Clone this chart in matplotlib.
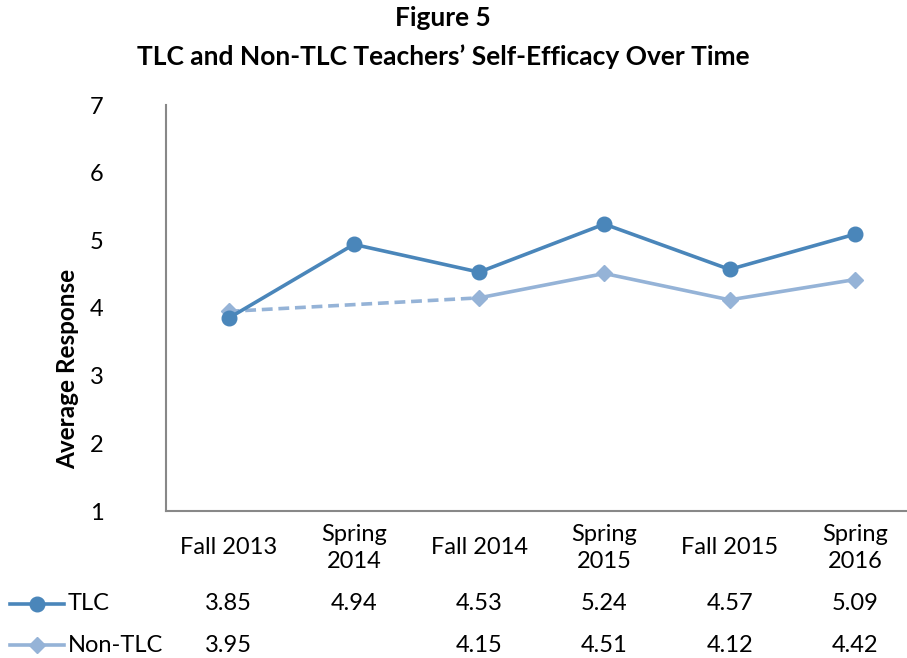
import matplotlib
matplotlib.use("Agg")
import matplotlib.pyplot as plt
import matplotlib.transforms as mtransforms
from matplotlib.lines import Line2D
import numpy as np

plt.rcParams['font.family'] = ['Lato', 'DejaVu Sans']

categories = ["Fall 2013", "Spring\n2014", "Fall 2014", "Spring\n2015", "Fall 2015", "Spring\n2016"]
tlc = [3.85, 4.94, 4.53, 5.24, 4.57, 5.09]
nonTlc = [3.95, None, 4.15, 4.51, 4.12, 4.42]
seriesNames = ["TLC", "Non-TLC"]

tlcColor = "#4A86BA"
nonColor = "#95B3D7"
axisColor = "#888888"
fs = 17

W, H = 907, 658
fig = plt.figure(figsize=(W / 100, H / 100), dpi=100)
ax = fig.add_axes([166 / W, 1 - 511 / H, 1 - 166 / W, (511 - 105) / H])

x = np.arange(len(categories))
nonArr = np.array([np.nan if v is None else v for v in nonTlc])

# gap in non-TLC is bridged with a dashed segment
valid = np.where(~np.isnan(nonArr))[0]
ax.plot(valid[:2], nonArr[valid[:2]], color=nonColor, lw=2.6, ls=(0, (3, 1.6)), zorder=2)
ax.plot(x, nonArr, color=nonColor, lw=2.6, marker="D", markersize=8.5, zorder=3)
ax.plot(x, tlc, color=tlcColor, lw=2.6, marker="o", markersize=10.5, zorder=4)

ax.set_ylim(1, 7)
ax.set_xlim(-0.5, 5 + (907 - 855) / 125)
ax.set_yticks(range(1, 8))
ax.set_xticks([])
ax.tick_params(axis="y", length=0, pad=45, labelsize=fs)
for s in ["top", "right"]:
    ax.spines[s].set_visible(False)
for s in ["left", "bottom"]:
    ax.spines[s].set_color(axisColor)
    ax.spines[s].set_linewidth(1.5)

trans = mtransforms.blended_transform_factory(ax.transData, ax.transAxes)
rowY = [(511 - 604) / 406, (511 - 645) / 406]
for i, c in enumerate(categories):
    ax.text(i, (511 - 548) / 406, c, transform=trans, ha="center", va="center",
            fontsize=fs, linespacing=1.4, clip_on=False)
    ax.text(i, rowY[0], f"{tlc[i]:.2f}", transform=trans, ha="center", va="center",
            fontsize=fs, clip_on=False)
    if nonTlc[i] is not None:
        ax.text(i, rowY[1], f"{nonTlc[i]:.2f}", transform=trans, ha="center", va="center",
                fontsize=fs, clip_on=False)

# legend keys in the data table
for name, yPix, color, mk, ms in [(seriesNames[0], 604, tlcColor, "o", 10.5),
                                  (seriesNames[1], 645, nonColor, "D", 8.5)]:
    fy = 1 - yPix / H
    fig.add_artist(Line2D([10 / W, 64 / W], [fy, fy], color=color, lw=2.6))
    fig.add_artist(Line2D([37 / W], [fy], color=color, marker=mk, markersize=ms, lw=0))
    fig.text(68 / W, fy, name, ha="left", va="center", fontsize=fs)

fig.text(68 / W, 1 - 369 / H, "Average Response", rotation=90, ha="center", va="center",
         fontsize=17.5, fontweight="bold")
fig.text(443 / W, 1 - 18 / H, "Figure 5", ha="center", va="center", fontsize=19, fontweight="bold")
fig.text(443 / W, 1 - 57 / H, "TLC and Non-TLC Teachers\u2019 Self-Efficacy Over Time",
         ha="center", va="center", fontsize=19, fontweight="bold")

fig.savefig("out.png", dpi=100)
